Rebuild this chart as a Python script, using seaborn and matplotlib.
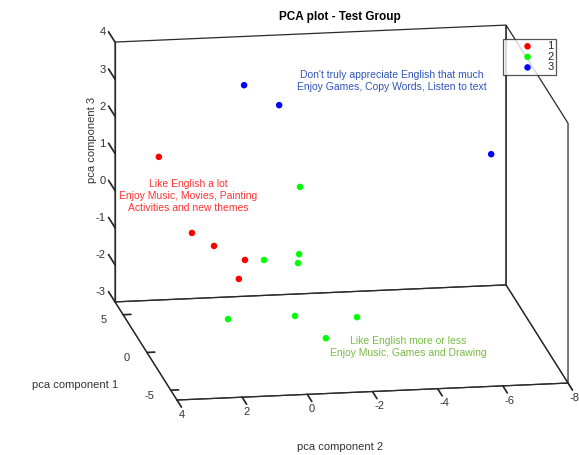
import numpy as np
import pandas as pd
import matplotlib
matplotlib.use("Agg")
import matplotlib.pyplot as plt
import seaborn as sns
from mpl_toolkits.mplot3d import proj3d

# ---- data (pca component 1, 2, 3 per group) ----
groups = ["1", "2", "3"]
red_pc1 = [4.0, 3.0, 3.5, 2.0, 1.5]
red_pc2 = [3.05, 2.18, 1.43, 0.70, 0.96]
red_pc3 = [1.42, -0.46, -0.94, -1.04, -1.44]

green_pc1 = [-1.0, 0.0, -1.0, -0.5, -3.0, -2.0, -4.0, -5.0]
green_pc2 = [-0.55, -0.67, -0.49, 0.48, 1.95, -0.25, -1.86, -0.76]
green_pc3 = [1.49, -0.53, -0.56, -0.54, -1.57, -1.77, -1.46, -1.78]

blue_pc1 = [3.0, 2.0, 1.0]
blue_pc2 = [0.58, -0.35, -6.71]
blue_pc3 = [3.46, 3.09, 1.73]

pc1_ticks = [-5, 0, 5]
pc2_ticks = [-8, -6, -4, -2, 0, 2, 4]
pc3_ticks = [-3, -2, -1, 0, 1, 2, 3, 4]

df = pd.DataFrame({
    "pc1": red_pc1 + green_pc1 + blue_pc1,
    "pc2": red_pc2 + green_pc2 + blue_pc2,
    "pc3": red_pc3 + green_pc3 + blue_pc3,
    "group": ["1"] * len(red_pc1) + ["2"] * len(green_pc1) + ["3"] * len(blue_pc1),
})

sns.set_theme(style="white")
plt.rcParams["font.family"] = ["Liberation Sans", "DejaVu Sans"]
plt.rcParams["axes.unicode_minus"] = False
palette = dict(zip(groups, ["#ff0000", "#00ff00", "#0000ff"]))

W, H = 579, 455
fig = plt.figure(figsize=(W / 100, H / 100), dpi=100)
ax = fig.add_axes([0.1, 0.1, 0.7, 0.7 * W / H], projection="3d", proj_type="ortho")

XL, YL, ZL = (-6.3, 6.7), (-8, 4), (-3, 4)
ax.set_xlim(*XL)
ax.set_ylim(*YL)
ax.set_zlim(*ZL)
ax.view_init(elev=15.2, azim=170.6)
ax.set_box_aspect((379, 396, 269))

for g in groups:
    sub = df[df["group"] == g]
    ax.scatter(sub["pc1"], sub["pc2"], sub["pc3"], color=palette[g], s=22,
               depthshade=False, edgecolors="none", label=g)

ax.set_xticks(pc1_ticks)
ax.set_yticks(pc2_ticks)
ax.set_zticks(pc3_ticks)
ax.grid(False)
edge = (0.17, 0.17, 0.17, 1.0)
for axis in (ax.xaxis, ax.yaxis, ax.zaxis):
    axis.pane.set_facecolor((1, 1, 1, 0))
    axis.pane.set_alpha(None)
    axis.pane.set_edgecolor(edge)
    axis.pane.set_linewidth(0.9)
    axis.pane.set_closed(True)
    axis.pane.set_clip_on(False)
    axis.line.set_color(edge)
    axis.line.set_linewidth(0.9)
    axis.line.set_clip_on(False)
    axis._axinfo["tick"]["color"] = edge
    axis._axinfo["tick"]["inward_factor"] = 0.0
    axis._axinfo["tick"]["outward_factor"] = 0.25
# MATLAB-like: vertical axis on the back-left edge, ticks pointing backwards
ax.zaxis.set_ticks_position("upper")
ax.zaxis._get_tickdir = lambda *args, **kwargs: 0
ax.zaxis._axinfo["tick"]["outward_factor"] = 1.3
ax.yaxis._axinfo["tick"]["outward_factor"] = 0.0
ax.yaxis._axinfo["tick"]["inward_factor"] = 0.9
ax.zaxis._axmask = lambda: [True, False, False]
ax.xaxis._axmask = lambda: [False, True, False]
ax.xaxis.set_tick_params(labelsize=8, labelcolor="#333333", pad=1.5)
ax.yaxis.set_tick_params(labelsize=8, labelcolor="#333333", pad=-2)
ax.zaxis.set_tick_params(labelsize=8, labelcolor="#333333", pad=25)
plt.setp(ax.xaxis.get_majorticklabels(), ha="right", va="top")
plt.setp(ax.yaxis.get_majorticklabels(), ha="left")
plt.setp(ax.zaxis.get_majorticklabels(), ha="right")

# ---- fit the projected box to the reference layout ----
fig.canvas.draw()
M = ax.get_proj()
pos = ax.get_position()
O = np.array([pos.x0 * W, pos.y0 * H])
S = pos.width * W
corners = [(XL[1], YL[1], ZL[0]), (XL[0], YL[0], ZL[0]), (XL[1], YL[1], ZL[1]), (XL[0], YL[1], ZL[0])]
targets = [(115, H - 302), (568, H - 383), (115, H - 42), (177, H - 400)]
gs = []
for c in corners:
    px, py, _ = proj3d.proj_transform(*c, M)
    d = ax.transData.transform((px, py))
    gs.append((d - O) / S)
gs = np.array(gs)
T = np.array(targets, dtype=float)
A = []
b = []
for gi, ti in zip(gs, T):
    A.append([gi[0], 1, 0]); b.append(ti[0])
    A.append([gi[1], 0, 1]); b.append(ti[1])
sol = np.linalg.lstsq(np.array(A), np.array(b), rcond=None)[0]
S2, ox, oy = sol
ax.set_position([ox / W, oy / H, S2 / W, S2 / H])

# ---- texts ----
fig.text(340 / W, 1 - 17 / H, "PCA plot - Test Group", ha="center", va="center",
         fontsize=8.5, fontweight="bold", color="black")
fig.text(92 / W, 1 - 140 / H, "pca component 3", rotation=90, ha="center", va="center",
         fontsize=8, color="#333333")
fig.text(75 / W, 1 - 385 / H, "pca component 1", ha="center", va="center",
         fontsize=8, color="#333333")
fig.text(340 / W, 1 - 447 / H, "pca component 2", ha="center", va="center",
         fontsize=8, color="#333333")

fig.text(188 / W, 1 - 196 / H, "Like English a lot\nEnjoy Music, Movies, Painting\nActivities and new themes",
         ha="center", va="center", fontsize=7.5, color="#ff3333", linespacing=1.2)
fig.text(392 / W, 1 - 81 / H, "Don't truly appreciate English that much\nEnjoy Games, Copy Words, Listen to text",
         ha="center", va="center", fontsize=7.5, color="#2f55bb", linespacing=1.2)
fig.text(408 / W, 1 - 347 / H, "Like English more or less\nEnjoy Music, Games and Drawing",
         ha="center", va="center", fontsize=7.5, color="#77bb44", linespacing=1.2)

leg = fig.legend(loc="upper right", bbox_to_anchor=(556 / W, 1 - 39 / H), fontsize=8,
                 frameon=True, fancybox=False, edgecolor="#2b2b2b", borderpad=0.2,
                 labelspacing=0.05, handletextpad=-0.2, handlelength=4.0,
                 markerscale=1.0, borderaxespad=0)
leg.get_frame().set_linewidth(0.9)

fig.savefig("out.png", dpi=100)
